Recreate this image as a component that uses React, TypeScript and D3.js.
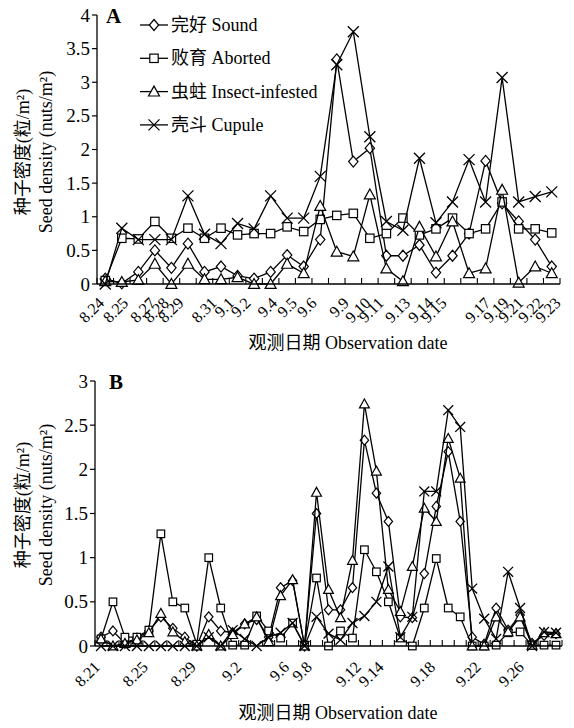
import React from 'react';
import * as d3 from 'd3';

// ---------- Panel A data (28 observations) ----------
const aSound = [0.08, 0.01, 0.18, 0.5, 0.24, 0.6, 0.18, 0.26, 0.12, 0.08, 0.18, 0.43, 0.26, 0.66, 3.34, 1.82, 2.02, 0.42, 0.42, 0.58, 0.17, 0.42, 0.75, 1.83, 1.2, 0.93, 0.66, 0.26];
const aAborted = [0.05, 0.68, 0.67, 0.93, 0.68, 0.83, 0.68, 0.83, 0.73, 0.75, 0.75, 0.85, 0.78, 0.96, 1.02, 1.05, 0.68, 0.75, 0.98, 0.73, 0.82, 0.98, 0.75, 0.82, 1.22, 0.82, 0.82, 0.76];
const aInsect = [0.04, 0.03, 0.06, 0.3, 0.0, 0.3, 0.07, 0.07, 0.1, 0.0, 0.0, 0.3, 0.16, 1.16, 0.48, 0.41, 1.33, 0.23, 0.04, 0.85, 0.41, 0.93, 0.16, 0.23, 1.4, 0.02, 0.26, 0.16];
const aCupule = [0.0, 0.83, 0.66, 0.66, 0.66, 1.31, 0.74, 0.6, 0.9, 0.82, 1.31, 0.98, 0.98, 1.6, 3.26, 3.75, 2.19, 0.93, 0.8, 1.87, 0.91, 1.22, 1.85, 1.22, 3.07, 1.22, 1.3, 1.37];
const aTickLabels = ['8.24', '8.25', '8.27', '8.28', '8.29', '8.31', '9.1', '9.2', '9.4', '9.5', '9.6', '9.9', '9.10', '9.11', '9.13', '9.14', '9.15', '9.17', '9.19', '9.21', '9.22', '9.23'];
// label anchor position, in observation (category) units
const aTickPos = [0.0, 1.45, 3.1, 3.9, 4.8, 6.8, 7.85, 8.85, 10.45, 11.65, 12.85, 14.8, 16.1, 16.9, 18.5, 19.9, 20.7, 23.35, 24.45, 25.35, 26.55, 27.6];
const aYTicks = [0, 0.5, 1, 1.5, 2, 2.5, 3, 3.5, 4];

// ---------- Panel B data (39 observations) ----------
const bSound = [0.1, 0.17, 0.03, 0.09, 0.17, 0.33, 0.2, 0.1, 0.0, 0.33, 0.17, 0.15, 0.25, 0.3, 0.1, 0.66, 0.74, 0.0, 1.5, 0.41, 0.41, 0.66, 2.33, 1.73, 1.41, 0.33, 0.32, 0.82, 1.58, 2.2, 1.41, 0.1, 0.02, 0.43, 0.18, 0.35, 0.03, 0.12, 0.14];
const bAborted = [0.08, 0.5, 0.1, 0.1, 0.18, 1.27, 0.5, 0.43, 0.02, 1.0, 0.43, 0.01, 0.01, 0.34, 0.17, 0.09, 0.26, 0.01, 0.77, 0.0, 0.17, 0.09, 1.09, 0.84, 0.5, 0.09, 0.0, 0.43, 0.99, 0.43, 0.33, 0.0, 0.0, 0.01, 0.15, 0.16, 0.01, 0.01, 0.01];
const bInsect = [0.08, 0.0, 0.03, 0.07, 0.15, 0.37, 0.16, 0.05, 0.0, 0.13, 0.0, 0.13, 0.25, 0.33, 0.05, 0.57, 0.75, 0.0, 1.74, 0.64, 0.32, 0.97, 2.74, 1.98, 0.64, 0.39, 0.9, 1.56, 1.41, 2.35, 1.9, 0.0, 0.0, 0.33, 0.16, 0.33, 0.01, 0.15, 0.14];
const bCupule = [0.0, 0.0, 0.0, 0.0, 0.0, 0.0, 0.0, 0.0, 0.0, 0.1, 0.0, 0.18, 0.08, 0.0, 0.1, 0.15, 0.26, 0.0, 0.33, 0.14, 0.07, 0.26, 0.34, 0.5, 0.9, 0.1, 0.33, 1.75, 1.75, 2.67, 2.48, 0.65, 0.31, 0.08, 0.84, 0.43, 0.0, 0.16, 0.15];
const bTickLabels = ['8.21', '8.25', '8.29', '9.2', '9.6', '9.8', '9.12', '9.14', '9.18', '9.22', '9.26'];
const bTickPos = [0, 4, 8, 11.8, 15.8, 17.7, 21.8, 23.7, 28, 31.8, 35.4];
const bYTicks = [0, 0.5, 1, 1.5, 2, 2.5, 3];

const seriesNames = ['完好 Sound', '败育 Aborted', '虫蛀 Insect-infested', '壳斗 Cupule'];
const markerKinds = ['diamond', 'square', 'triangle', 'cross'];

const FONT = "'Liberation Serif', 'Times New Roman', 'Noto Sans CJK SC', serif";

function Marker({ kind, x, y, s }: { kind: string; x: number; y: number; s: number }) {
  const common = { fill: '#fff', stroke: '#000', strokeWidth: 1.2 };
  if (kind === 'diamond') {
    const h = s * 0.55;
    return <path d={`M${x},${y - h}L${x + h * 0.85},${y}L${x},${y + h}L${x - h * 0.85},${y}Z`} {...common} />;
  }
  if (kind === 'square') {
    const h = s * 0.42;
    return <rect x={x - h} y={y - h} width={2 * h} height={2 * h} {...common} />;
  }
  if (kind === 'triangle') {
    const h = s * 0.55;
    return <path d={`M${x},${y - h}L${x + h},${y + h * 0.8}L${x - h},${y + h * 0.8}Z`} {...common} />;
  }
  const h = s * 0.55;
  return <path d={`M${x - h},${y - h}L${x + h},${y + h}M${x + h},${y - h}L${x - h},${y + h}`} fill="none" stroke="#000" strokeWidth={1.3} />;
}

type PanelProps = {
  series: number[][];
  tickLabels: string[];
  tickPos: number[];
  yTicks: number[];
  left: number; right: number; top: number; bottom: number;
  letter: string; letterX: number; letterY: number;
  titleX: number; titleY: number; yTitleY: number;
  labelDrop: number; markerSize: number;
  legend: boolean;
};

function Panel(p: PanelProps) {
  const n = p.series[0].length;
  const x = d3.scaleBand<number>().domain(d3.range(n)).range([p.left, p.right]).paddingInner(0).paddingOuter(0);
  const bw = x.bandwidth();
  const xc = d3.scaleLinear().domain([0, n - 1]).range([x(0)! + bw / 2, x(n - 1)! + bw / 2]);
  const yMax = p.yTicks[p.yTicks.length - 1];
  const y = d3.scaleLinear().domain([0, yMax]).range([p.bottom, p.top]);
  const line = d3.line<number>().x((_, i) => xc(i)).y((d) => y(d));
  const boundaries = d3.range(n + 1).map((i) => p.left + i * bw);

  return (
    <g fontFamily={FONT}>
      {/* series */}
      {p.series.map((vals, si) => (
        <g key={si}>
          <path d={line(vals) || ''} fill="none" stroke="#000" strokeWidth={1.3} />
          {vals.map((v, i) => (
            <Marker key={i} kind={markerKinds[si]} x={xc(i)} y={y(v)} s={p.markerSize} />
          ))}
        </g>
      ))}
      {/* axes */}
      <line x1={p.left} x2={p.left} y1={p.top} y2={p.bottom} stroke="#000" strokeWidth={1.3} />
      <line x1={p.left} x2={p.right} y1={p.bottom} y2={p.bottom} stroke="#000" strokeWidth={1.3} />
      {p.yTicks.map((t) => (
        <g key={t}>
          <line x1={p.left - 5} x2={p.left} y1={y(t)} y2={y(t)} stroke="#000" strokeWidth={1.2} />
          <text x={p.left - 7} y={y(t)} textAnchor="end" dominantBaseline="central" fontSize={19}>{t}</text>
        </g>
      ))}
      {boundaries.map((bx, i) => (
        <line key={i} x1={bx} x2={bx} y1={p.bottom} y2={p.bottom - 6} stroke="#000" strokeWidth={1.1} />
      ))}
      {p.tickLabels.map((lab, i) => (
        <text key={lab} transform={`translate(${xc(p.tickPos[i])},${p.bottom + p.labelDrop}) rotate(-45)`} textAnchor="end" fontSize={16}>{lab}</text>
      ))}
      {/* letter */}
      <text x={p.letterX} y={p.letterY} fontSize={21} fontWeight="bold">{p.letter}</text>
      {/* axis titles */}
      <text x={p.titleX} y={p.titleY} textAnchor="middle" fontSize={18}>观测日期 Observation date</text>
      <text transform={`translate(23,${p.yTitleY}) rotate(-90)`} textAnchor="middle" dominantBaseline="central" fontSize={18}>种子密度(粒/m²)</text>
      <text transform={`translate(46,${p.yTitleY}) rotate(-90)`} textAnchor="middle" dominantBaseline="central" fontSize={18}>Seed density (nuts/m²)</text>
      {p.legend && seriesNames.map((name, i) => {
        const ly = 25 + i * 33.3;
        return (
          <g key={name}>
            <line x1={140} x2={168} y1={ly} y2={ly} stroke="#000" strokeWidth={1.3} />
            <Marker kind={markerKinds[i]} x={154} y={ly} s={p.markerSize} />
            <text x={171} y={ly} dominantBaseline="central" fontSize={18}>{name}</text>
          </g>
        );
      })}
    </g>
  );
}

export default function App() {
  return (
    <svg width={574} height={728} style={{ position: 'absolute', left: 0, top: 0, background: '#fff' }}>
      <rect width={574} height={728} fill="#fff" />
      <Panel
        series={[aSound, aAborted, aInsect, aCupule]}
        tickLabels={aTickLabels} tickPos={aTickPos} yTicks={aYTicks}
        left={97} right={560} top={15} bottom={284}
        letter="A" letterX={106} letterY={23}
        titleX={348} titleY={349} yTitleY={152}
        labelDrop={20} markerSize={10} legend={true}
      />
      <Panel
        series={[bSound, bAborted, bInsect, bCupule]}
        tickLabels={bTickLabels} tickPos={bTickPos} yTicks={bYTicks}
        left={95} right={562} top={381} bottom={646}
        letter="B" letterX={109} letterY={389}
        titleX={338} titleY={719} yTitleY={505}
        labelDrop={22} markerSize={9} legend={false}
      />
    </svg>
  );
}
